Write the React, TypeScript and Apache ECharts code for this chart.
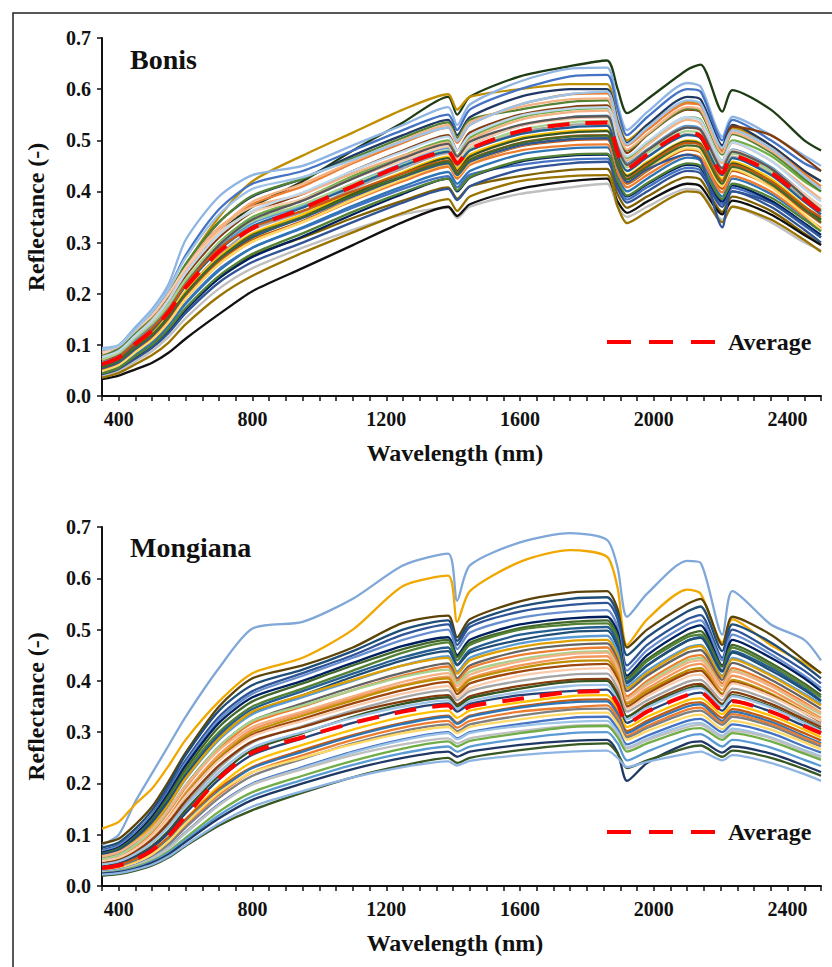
import React, { useEffect, useRef } from "react";
import * as echarts from "echarts";

const WAVELENGTHS = [350, 400, 450, 500, 550, 600, 700, 800, 950, 1100, 1250, 1385, 1412, 1450, 1600, 1750, 1860, 1892, 1920, 1980, 2100, 2140, 2205, 2235, 2350, 2450, 2500];

const X_LABELS = [400, 800, 1200, 1600, 2000, 2400];
const PANEL_TITLES = ["Bonis", "Mongiana"];
const X_NAME = "Wavelength (nm)";
const Y_NAME = "Reflectance (-)";
const AVERAGE_NAME = "Average";

const BONIS_SPECTRA = [
  [.068, .082, .112, .140, .182, .236, .318, .370, .420, .480, .535, .585, .550, .585, .625, .645, .656, .600, .553, .580, .638, .648, .556, .598, .560, .500, .480],
  [.070, .085, .118, .150, .195, .255, .350, .420, .470, .515, .560, .590, .560, .585, .600, .610, .610, .540, .500, .530, .575, .570, .490, .525, .490, .440, .420],
  [.094, .100, .135, .170, .220, .305, .390, .432, .450, .490, .530, .565, .530, .570, .615, .640, .642, .570, .520, .555, .612, .605, .507, .546, .510, .470, .450],
  [.088, .095, .130, .162, .210, .275, .365, .415, .440, .480, .520, .550, .520, .560, .600, .625, .628, .560, .510, .545, .600, .595, .500, .540, .500, .455, .440],
  [.075, .088, .120, .150, .195, .255, .340, .390, .425, .470, .510, .540, .510, .545, .585, .600, .600, .535, .495, .530, .585, .580, .490, .530, .490, .440, .420],
  [.070, .085, .118, .150, .190, .245, .325, .375, .410, .455, .495, .525, .495, .530, .570, .590, .592, .530, .490, .520, .572, .568, .480, .520, .485, .435, .410],
  [.043, .053, .076, .098, .130, .170, .232, .275, .310, .348, .382, .408, .386, .410, .430, .442, .444, .394, .368, .390, .428, .423, .360, .390, .362, .318, .296],
  [.065, .080, .110, .140, .180, .235, .310, .360, .395, .440, .480, .510, .480, .515, .550, .565, .568, .510, .475, .510, .560, .555, .475, .527, .510, .465, .440],
  [.060, .075, .105, .135, .175, .225, .300, .350, .385, .430, .470, .500, .470, .505, .545, .560, .563, .500, .465, .495, .545, .540, .460, .500, .470, .420, .400],
  [.080, .092, .125, .155, .200, .255, .330, .370, .395, .435, .470, .495, .468, .500, .540, .555, .558, .495, .460, .490, .540, .533, .455, .495, .460, .410, .385],
  [.047, .058, .083, .106, .140, .182, .248, .290, .328, .368, .405, .430, .408, .433, .452, .462, .464, .412, .384, .408, .446, .441, .375, .407, .378, .333, .310],
  [.058, .070, .097, .122, .158, .205, .275, .325, .360, .405, .445, .475, .450, .480, .515, .530, .532, .472, .440, .468, .512, .505, .432, .468, .435, .385, .360],
  [.055, .068, .096, .124, .160, .205, .272, .318, .355, .398, .438, .468, .445, .472, .505, .518, .520, .462, .432, .458, .500, .494, .425, .458, .425, .372, .345],
  [.078, .092, .124, .156, .200, .258, .340, .392, .425, .465, .505, .535, .505, .540, .560, .575, .578, .515, .480, .510, .562, .556, .472, .512, .476, .425, .400],
  [.066, .078, .108, .135, .172, .220, .290, .338, .372, .415, .455, .485, .460, .490, .528, .545, .548, .488, .455, .482, .528, .522, .447, .482, .448, .395, .370],
  [.050, .062, .088, .112, .148, .195, .265, .310, .350, .395, .435, .465, .440, .468, .502, .515, .518, .460, .430, .455, .498, .492, .420, .455, .420, .370, .345],
  [.052, .064, .090, .115, .150, .195, .262, .305, .342, .385, .422, .450, .428, .455, .488, .500, .502, .445, .415, .440, .482, .476, .405, .440, .410, .362, .338],
  [.072, .086, .117, .148, .190, .245, .325, .380, .415, .458, .500, .530, .500, .535, .565, .580, .582, .520, .482, .512, .565, .560, .475, .515, .480, .430, .405],
  [.045, .056, .080, .104, .138, .180, .245, .290, .330, .372, .410, .438, .415, .440, .472, .484, .486, .430, .400, .425, .466, .460, .390, .425, .395, .350, .325],
  [.072, .084, .114, .142, .180, .228, .298, .342, .375, .415, .452, .480, .456, .484, .520, .535, .538, .478, .447, .475, .518, .512, .440, .474, .440, .390, .365],
  [.050, .062, .087, .110, .145, .190, .258, .302, .340, .382, .420, .448, .425, .452, .480, .490, .492, .437, .408, .432, .472, .466, .398, .430, .400, .352, .328],
  [.048, .060, .086, .110, .145, .190, .258, .302, .340, .384, .424, .453, .430, .456, .490, .503, .505, .448, .418, .443, .484, .478, .410, .443, .408, .355, .325],
  [.042, .052, .075, .097, .128, .168, .230, .272, .312, .355, .395, .425, .400, .427, .458, .470, .472, .418, .390, .414, .452, .447, .380, .412, .382, .338, .315],
  [.085, .097, .128, .158, .200, .250, .320, .360, .385, .425, .460, .488, .462, .490, .528, .542, .545, .485, .452, .480, .525, .518, .445, .480, .445, .395, .370],
  [.062, .075, .103, .130, .168, .215, .285, .332, .368, .410, .450, .478, .453, .480, .512, .525, .528, .470, .440, .467, .510, .504, .432, .465, .432, .380, .355],
  [.040, .050, .072, .094, .124, .162, .222, .262, .300, .340, .378, .405, .383, .410, .442, .455, .458, .405, .378, .400, .440, .435, .370, .400, .370, .325, .300],
  [.038, .048, .068, .088, .116, .152, .210, .250, .290, .325, .355, .368, .348, .370, .395, .408, .415, .370, .350, .370, .405, .400, .345, .370, .340, .300, .285],
  [.033, .040, .052, .065, .085, .112, .160, .205, .250, .295, .340, .370, .352, .375, .405, .420, .425, .380, .358, .380, .415, .410, .355, .382, .355, .315, .295],
  [.036, .045, .062, .080, .105, .140, .195, .235, .280, .320, .358, .385, .362, .390, .420, .430, .432, .370, .338, .360, .400, .396, .340, .370, .345, .305, .282],
  [.044, .055, .078, .100, .132, .172, .235, .278, .318, .360, .398, .425, .402, .428, .460, .472, .474, .420, .392, .416, .455, .450, .385, .415, .388, .345, .322],
  [.054, .066, .092, .118, .155, .200, .268, .312, .348, .390, .428, .455, .432, .458, .490, .502, .504, .448, .418, .443, .472, .462, .330, .400, .378, .335, .310],
  [.090, .098, .130, .165, .210, .270, .355, .405, .428, .462, .498, .525, .498, .530, .570, .590, .595, .530, .492, .525, .578, .572, .485, .520, .485, .430, .405],
  [.060, .073, .100, .128, .168, .218, .295, .345, .382, .425, .465, .493, .468, .497, .530, .545, .547, .486, .452, .480, .525, .520, .445, .478, .445, .390, .362],
  [.064, .077, .105, .133, .170, .218, .288, .330, .362, .400, .435, .460, .437, .463, .495, .508, .510, .455, .425, .452, .495, .490, .420, .452, .420, .370, .350],
  [.076, .088, .118, .147, .188, .240, .315, .362, .398, .440, .478, .507, .480, .510, .548, .562, .565, .503, .468, .497, .545, .538, .460, .496, .460, .405, .380],
  [.056, .069, .095, .120, .156, .200, .268, .315, .350, .392, .430, .458, .435, .462, .494, .507, .509, .453, .423, .448, .490, .485, .415, .448, .415, .365, .340],
];

const BONIS_COLORS = [
  "#1e3d14", "#bf8f00", "#8db4e2", "#4472c4", "#1f3864", "#ed7d31", "#7f6000", "#843c0c",
  "#70ad47", "#f4b183", "#4472c4", "#a5a5a5", "#ffc000", "#548235", "#5b9bd5", "#375623",
  "#c55a11", "#f4b183", "#2e75b6", "#a9d18e", "#ed7d31", "#ffd966", "#002060", "#f8cbad",
  "#255e91", "#305496", "#bfbfbf", "#111111", "#997300", "#548235", "#2f5597", "#9dc3e6",
  "#595959", "#c65911", "#bdd7ee", "#43682b",
];

const BONIS_AVERAGE = [.062, .075, .102, .128, .165, .212, .282, .328, .367, .410, .452, .478, .455, .483, .518, .532, .535, .475, .445, .472, .515, .508, .436, .470, .437, .385, .360];

const MONGIANA_SPECTRA = [
  [.080, .100, .165, .220, .275, .330, .425, .502, .515, .560, .625, .648, .556, .625, .670, .688, .675, .620, .525, .570, .634, .630, .490, .575, .510, .480, .440],
  [.112, .125, .160, .190, .235, .285, .360, .415, .445, .500, .585, .605, .515, .575, .632, .655, .642, .580, .470, .520, .578, .570, .475, .520, .470, .435, .415],
  [.083, .092, .120, .155, .205, .260, .350, .405, .430, .465, .513, .527, .485, .520, .555, .572, .575, .540, .465, .500, .550, .560, .470, .525, .490, .440, .415],
  [.075, .085, .112, .148, .198, .255, .342, .392, .422, .458, .500, .518, .478, .512, .545, .560, .563, .530, .450, .485, .535, .545, .458, .510, .475, .430, .405],
  [.070, .080, .105, .140, .190, .245, .330, .380, .415, .450, .490, .510, .470, .505, .535, .548, .552, .520, .430, .470, .520, .528, .445, .500, .460, .420, .395],
  [.068, .078, .103, .138, .185, .240, .324, .375, .410, .445, .480, .500, .462, .494, .523, .535, .538, .505, .420, .460, .510, .518, .440, .490, .452, .410, .386],
  [.065, .075, .100, .135, .182, .235, .318, .368, .400, .435, .468, .485, .450, .480, .510, .522, .525, .495, .410, .450, .500, .508, .430, .480, .445, .405, .380],
  [.063, .073, .097, .130, .176, .228, .310, .360, .395, .430, .462, .480, .446, .474, .503, .515, .518, .486, .405, .442, .490, .497, .428, .470, .435, .395, .372],
  [.060, .070, .092, .125, .170, .222, .300, .350, .385, .420, .455, .475, .440, .470, .500, .510, .512, .480, .400, .438, .485, .490, .420, .465, .430, .390, .368],
  [.058, .067, .090, .120, .165, .216, .295, .345, .380, .414, .446, .465, .432, .460, .490, .502, .505, .472, .398, .430, .478, .485, .420, .458, .425, .385, .362],
  [.062, .070, .094, .126, .168, .215, .290, .338, .372, .408, .440, .458, .430, .455, .480, .495, .498, .465, .395, .430, .478, .484, .418, .455, .420, .382, .360],
  [.055, .064, .085, .115, .158, .208, .285, .335, .368, .400, .430, .448, .418, .445, .473, .485, .488, .455, .390, .420, .465, .470, .410, .445, .412, .375, .355],
  [.057, .066, .088, .118, .160, .210, .288, .340, .372, .402, .430, .445, .414, .440, .466, .478, .480, .448, .385, .415, .462, .468, .408, .442, .410, .372, .352],
  [.052, .060, .080, .108, .148, .196, .272, .322, .356, .388, .416, .434, .405, .430, .458, .470, .473, .440, .380, .410, .455, .460, .402, .435, .402, .365, .345],
  [.050, .058, .078, .105, .145, .192, .268, .318, .350, .382, .410, .428, .400, .425, .450, .462, .465, .432, .370, .400, .445, .450, .395, .425, .395, .358, .338],
  [.052, .060, .080, .108, .148, .195, .272, .322, .352, .382, .408, .422, .395, .418, .442, .455, .458, .425, .365, .395, .440, .445, .390, .420, .390, .352, .335],
  [.058, .066, .086, .112, .150, .195, .265, .310, .340, .370, .398, .415, .390, .412, .438, .452, .455, .422, .365, .392, .435, .440, .390, .418, .390, .355, .338],
  [.048, .055, .073, .098, .135, .182, .256, .305, .336, .366, .392, .408, .383, .405, .430, .445, .448, .415, .358, .385, .428, .433, .382, .410, .382, .346, .328],
  [.045, .052, .070, .095, .132, .178, .250, .300, .332, .362, .390, .405, .380, .402, .425, .438, .440, .410, .355, .380, .420, .425, .375, .402, .375, .340, .322],
  [.046, .053, .070, .094, .130, .175, .246, .295, .326, .356, .382, .398, .374, .395, .418, .430, .433, .402, .350, .375, .415, .420, .372, .398, .372, .338, .320],
  [.048, .055, .072, .097, .132, .175, .245, .292, .322, .350, .375, .390, .368, .386, .410, .422, .425, .395, .345, .370, .408, .412, .370, .395, .370, .338, .322],
  [.040, .046, .062, .085, .118, .160, .230, .280, .312, .342, .368, .382, .362, .380, .400, .412, .414, .385, .340, .362, .398, .402, .362, .385, .362, .330, .315],
  [.044, .050, .066, .090, .124, .166, .235, .282, .310, .338, .360, .372, .354, .370, .390, .402, .404, .375, .330, .355, .390, .394, .355, .378, .355, .325, .310],
  [.038, .044, .058, .078, .108, .148, .215, .265, .298, .330, .355, .368, .350, .366, .385, .398, .400, .370, .330, .352, .385, .390, .352, .372, .350, .320, .305],
  [.042, .048, .063, .085, .116, .155, .222, .270, .300, .328, .350, .362, .345, .360, .378, .390, .392, .362, .325, .348, .382, .386, .350, .370, .348, .318, .302],
  [.037, .043, .056, .075, .104, .142, .208, .256, .288, .318, .343, .356, .340, .355, .372, .380, .383, .355, .318, .340, .372, .377, .342, .362, .340, .312, .298],
  [.034, .039, .050, .067, .094, .130, .195, .242, .275, .305, .330, .342, .328, .342, .358, .370, .372, .345, .310, .330, .362, .366, .335, .352, .332, .305, .290],
  [.036, .041, .053, .070, .096, .130, .190, .232, .265, .294, .318, .332, .318, .332, .350, .362, .364, .338, .302, .322, .355, .358, .328, .345, .325, .298, .284],
  [.032, .037, .048, .065, .090, .124, .185, .230, .262, .292, .316, .330, .316, .330, .348, .358, .360, .335, .298, .318, .350, .354, .322, .340, .320, .292, .278],
  [.031, .036, .046, .062, .086, .119, .178, .222, .255, .285, .309, .322, .309, .322, .340, .348, .352, .328, .293, .312, .344, .348, .318, .335, .316, .289, .276],
  [.030, .034, .044, .059, .082, .114, .172, .215, .248, .278, .302, .315, .302, .315, .332, .344, .346, .322, .290, .308, .338, .342, .314, .330, .312, .285, .272],
  [.029, .034, .045, .062, .088, .122, .182, .222, .250, .276, .298, .310, .298, .310, .325, .336, .338, .315, .285, .302, .330, .334, .306, .322, .305, .280, .266],
  [.028, .032, .041, .055, .076, .105, .160, .200, .232, .262, .286, .300, .288, .300, .316, .328, .330, .306, .276, .293, .322, .326, .300, .315, .298, .272, .260],
  [.027, .031, .040, .053, .074, .103, .158, .198, .230, .260, .284, .298, .286, .298, .312, .320, .322, .300, .270, .287, .315, .318, .293, .307, .290, .265, .253],
  [.026, .030, .040, .054, .075, .104, .158, .198, .228, .255, .276, .288, .278, .288, .302, .312, .314, .295, .268, .284, .310, .314, .290, .302, .288, .262, .250],
  [.025, .029, .037, .049, .068, .094, .145, .183, .215, .244, .268, .282, .272, .283, .298, .310, .312, .290, .262, .278, .305, .308, .285, .298, .282, .258, .246],
  [.024, .028, .035, .047, .065, .090, .138, .175, .207, .236, .259, .272, .262, .272, .287, .298, .300, .278, .245, .262, .292, .296, .272, .285, .270, .246, .234],
  [.024, .027, .034, .045, .062, .086, .132, .168, .200, .228, .250, .262, .252, .262, .275, .283, .285, .260, .205, .240, .278, .282, .260, .272, .258, .235, .222],
  [.020, .023, .030, .040, .056, .078, .118, .148, .182, .212, .235, .250, .240, .250, .265, .275, .278, .258, .230, .245, .270, .274, .252, .264, .250, .228, .215],
  [.022, .025, .032, .042, .058, .080, .122, .155, .185, .212, .232, .243, .235, .244, .255, .262, .264, .250, .232, .242, .258, .262, .245, .255, .240, .218, .205],
];

const MONGIANA_COLORS = [
  "#7fa7d8", "#f0a800", "#5c4308", "#1f4e79", "#2f5597", "#698ed0", "#002060", "#43682b",
  "#548235", "#255e91", "#1f4e79", "#5b9bd5", "#e0a000", "#636363", "#ed7d31", "#a9d18e",
  "#f4b183", "#f1975a", "#bf8f00", "#9e480e", "#f8cbad", "#a5a5a5", "#843c0c", "#375623",
  "#9dc3e6", "#264478", "#ffc000", "#c55a11", "#2e75b6", "#ed7d31", "#7f7f7f", "#ffd966",
  "#4472c4", "#9dc3e6", "#bfbfbf", "#70ad47", "#5b9bd5", "#1f3864", "#385723", "#8db4e2",
];

const MONGIANA_AVERAGE = [.035, .040, .052, .070, .098, .136, .210, .260, .290, .318, .340, .352, .336, .350, .365, .378, .380, .355, .317, .340, .372, .377, .343, .360, .340, .312, .298];

const FONT = '"Liberation Serif", "Times New Roman", serif';
const INK = "#111111";

export default function App() {
  const ref = useRef<HTMLDivElement>(null);

  useEffect(() => {
    if (!ref.current) return;
    const chart = echarts.init(ref.current, null, { renderer: "svg" });

    const grids = [
      { left: 102, top: 38, width: 719, height: 358 },
      { left: 102, top: 527, width: 719, height: 359 },
    ];

    const panels = [
      { spectra: BONIS_SPECTRA, colors: BONIS_COLORS, average: BONIS_AVERAGE },
      { spectra: MONGIANA_SPECTRA, colors: MONGIANA_COLORS, average: MONGIANA_AVERAGE },
    ];

    const toPoints = (vals: number[]) => WAVELENGTHS.map((w, j) => [w, vals[j]]);

    const xAxes = grids.map((_, i) => ({
      type: "value",
      gridIndex: i,
      min: 350,
      max: 2500,
      interval: 50,
      axisLine: { show: true, onZero: false, lineStyle: { color: INK, width: 2 } },
      axisTick: { show: true, length: 5, lineStyle: { color: INK, width: 1.5 } },
      axisLabel: {
        formatter: (v: number) => (X_LABELS.includes(v) ? String(v) : ""),
        margin: 13,
        color: INK,
        fontSize: 20,
        fontWeight: "bold",
        fontFamily: FONT,
      },
      splitLine: { show: false },
      name: X_NAME,
      nameLocation: "middle",
      nameGap: 45,
      nameTextStyle: {
        color: INK,
        fontSize: 24,
        fontWeight: "bold",
        fontFamily: FONT,
        padding: [0, 13, 0, 0],
      },
    }));

    const yAxes = grids.map((_, i) => ({
      type: "value",
      gridIndex: i,
      min: 0,
      max: 0.7,
      interval: 0.1,
      axisLine: { show: true, lineStyle: { color: INK, width: 2 } },
      axisTick: { show: true, length: 5, lineStyle: { color: INK, width: 1.5 } },
      axisLabel: {
        formatter: (v: number) => v.toFixed(1),
        margin: 11,
        color: INK,
        fontSize: 20,
        fontWeight: "bold",
        fontFamily: FONT,
      },
      splitLine: { show: false },
      name: Y_NAME,
      nameLocation: "middle",
      nameGap: 54,
      nameRotate: 90,
      nameTextStyle: {
        color: INK,
        fontSize: 24,
        fontWeight: "bold",
        fontFamily: FONT,
      },
    }));

    const series: any[] = [];
    panels.forEach((p, i) => {
      p.spectra.forEach((vals, k) => {
        const c = p.colors[k % p.colors.length];
        series.push({
          name: `${PANEL_TITLES[i]} ${k + 1}`,
          type: "line",
          xAxisIndex: i,
          yAxisIndex: i,
          data: toPoints(vals),
          symbol: "none",
          showSymbol: false,
          smooth: 0.25,
          silent: true,
          lineStyle: { width: 2.3, color: c },
          itemStyle: { color: c },
          emphasis: { disabled: true },
          z: 2,
        });
      });
      series.push({
        name: AVERAGE_NAME,
        type: "line",
        xAxisIndex: i,
        yAxisIndex: i,
        data: toPoints(p.average),
        symbol: "none",
        showSymbol: false,
        smooth: 0.25,
        silent: true,
        lineStyle: { width: 4, color: "#ff0000", type: [22, 16] },
        itemStyle: { color: "#ff0000" },
        emphasis: { disabled: true },
        z: 5,
      });
    });

    const legendCommon = {
      data: [{ name: AVERAGE_NAME, icon: "path://M0 0h24v4H0z M42 0h24v4H42z M84 0h24v4H84z" }],
      orient: "horizontal",
      itemWidth: 108,
      itemHeight: 4,
      symbolKeepAspect: false,
      selectedMode: false,
      itemStyle: { color: "#ff0000", borderWidth: 0 },
      textStyle: {
        color: INK,
        fontSize: 24,
        fontWeight: "bold",
        fontFamily: FONT,
        lineHeight: 24,
        padding: [0, 0, 0, 8],
      },
      padding: 0,
    };

    chart.setOption({
      animation: false,
      backgroundColor: "#ffffff",
      textStyle: { fontFamily: FONT },
      grid: grids.map((g) => ({ ...g, containLabel: false })),
      xAxis: xAxes,
      yAxis: yAxes,
      legend: [
        { ...legendCommon, left: 607, top: 330 },
        { ...legendCommon, left: 607, top: 820 },
      ],
      graphic: [
        {
          type: "rect",
          silent: true,
          z: -10,
          shape: { x: 13, y: 13, width: 840, height: 970 },
          style: { fill: "none", stroke: "#222222", lineWidth: 1.5 },
        },
        {
          type: "text",
          x: 130,
          y: 59,
          silent: true,
          style: {
            text: PANEL_TITLES[0],
            fill: INK,
            fontSize: 28,
            fontWeight: "bold",
            fontFamily: FONT,
            verticalAlign: "middle",
          },
        },
        {
          type: "text",
          x: 130,
          y: 547,
          silent: true,
          style: {
            text: PANEL_TITLES[1],
            fill: INK,
            fontSize: 28,
            fontWeight: "bold",
            fontFamily: FONT,
            verticalAlign: "middle",
          },
        },
      ],
      series,
    });

    return () => chart.dispose();
  }, []);

  return (
    <div
      ref={ref}
      style={{ position: "absolute", left: 0, top: 0, width: 832, height: 967, background: "#fff" }}
    />
  );
}
